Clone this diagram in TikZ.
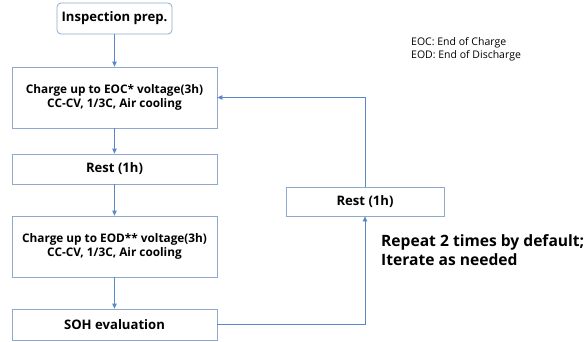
\documentclass[tikz,border=0pt]{standalone}
\usepackage{fontspec}
\setmainfont{Open Sans}
\usetikzlibrary{arrows.meta}
\definecolor{boxline}{HTML}{8FA9CE}
\definecolor{flow}{HTML}{5A87C8}
\tikzset{
  x=1pt, y=-1pt,
  stepbox/.style={draw=boxline, line width=0.8pt, fill=white, inner sep=0pt,
    align=center, font=\bfseries\fontsize{11.8}{14.5}\selectfont},
  titlebox/.style={stepbox, font=\bfseries\fontsize{13.1}{15}\selectfont},
  flowline/.style={draw=flow, line width=0.8pt, -{Triangle[length=5pt,width=4.5pt]}},
}
\begin{document}
\begin{tikzpicture}
\useasboundingbox (0,0) rectangle (584,341);
% process steps
\node[titlebox, rounded corners=4pt, minimum width=115pt, minimum height=31pt]
  (prep) at (114.5,18.5) {Inspection prep.};
\node[stepbox, minimum width=205pt, minimum height=61pt] (chg) at (114.5,97.5)
  {Charge up to EOC* voltage(3h)\\CC-CV, 1/3C, Air cooling};
\node[titlebox, minimum width=205pt, minimum height=30pt] (rest) at (114.5,169)
  {Rest (1h)};
\node[stepbox, minimum width=205pt, minimum height=61pt] (dis) at (114.5,246.5)
  {Charge up to EOD** voltage(3h)\\CC-CV, 1/3C, Air cooling};
\node[titlebox, minimum width=205pt, minimum height=31pt] (soh) at (114.5,324.5)
  {SOH evaluation};
\node[titlebox, minimum width=158pt, minimum height=29pt] (rest2) at (365,201.5)
  {Rest (1h)};
% main sequence
\draw[flowline] (prep) -- (chg);
\draw[flowline] (chg) -- (rest);
\draw[flowline] (rest) -- (dis);
\draw[flowline] (dis) -- (soh);
% repeat loop
\coordinate (lb) at (365,324.5);
\coordinate (lt) at (365,97.5);
\draw[flowline] (soh.east) -- (lb) -- (rest2.south);
\draw[flowline] (rest2.north) -- (lt) -- (chg.east);
% notes (base anchor sits on the last line)
\node[anchor=base west, inner sep=0pt, align=left,
  font=\bfseries\fontsize{15.6}{19}\selectfont] (note) at (381,265)
  {Repeat 2 times by default;\\Iterate as needed};
\node[anchor=base west, inner sep=0pt, align=left,
  font=\fontsize{10.5}{12.5}\selectfont] (legend) at (411,58)
  {EOC: End of Charge\\EOD: End of Discharge};
\end{tikzpicture}
\end{document}
